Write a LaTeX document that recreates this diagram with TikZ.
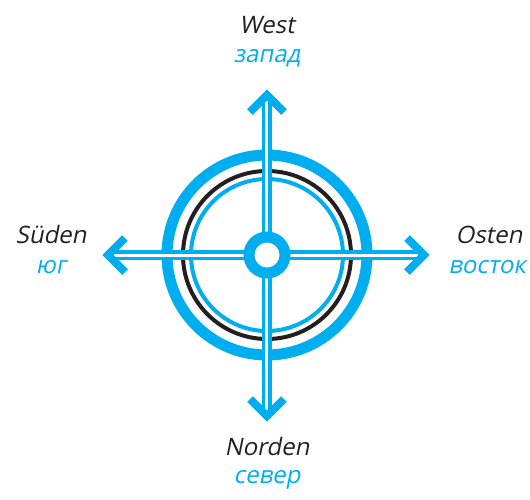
\documentclass[tikz,border=0pt]{standalone}
\usepackage{fontspec}
\setmainfont{Open Sans}
\newfontfamily\oblfont{Open Sans}[FakeSlant=0.2]
\definecolor{cy}{HTML}{00AEEF}
\definecolor{ink}{HTML}{231F20}
\begin{document}
\begin{tikzpicture}[x=1pt,y=1pt,
  shaft/.style={draw=cy,line width=3.5pt,double=white,double distance=3pt},
  chev/.style={draw=cy,line width=8pt,miter limit=10,line join=miter},
  lab/.style={anchor=base,font=\fontsize{24}{28}\selectfont\oblfont,text=ink,inner sep=0pt},
  labc/.style={lab,text=cy}]
\useasboundingbox (-267,-244) rectangle (263,255);
\coordinate (c) at (0,0);
\coordinate (tN) at (0,160);
\coordinate (tS) at (0,-161);
\coordinate (tW) at (-159,0);
\coordinate (tE) at (157,0);
% rings
\draw[cy,line width=11pt] (c) circle (100);
\draw[ink,line width=4pt] (c) circle (84);
\draw[cy,line width=4pt] (c) circle (76);
% shafts
\draw[shaft] (c) -- ([yshift=-2]tN);
\draw[shaft] (c) -- ([yshift=2]tS);
\draw[shaft] (c) -- ([xshift=2]tW);
\draw[shaft] (c) -- ([xshift=-2]tE);
% chevrons
\draw[chev] ([shift={(-17,-17)}]tN) -- (tN) -- ([shift={(17,-17)}]tN);
\draw[chev] ([shift={(-17,17)}]tS) -- (tS) -- ([shift={(17,17)}]tS);
\draw[chev] ([shift={(17,17)}]tW) -- (tW) -- ([shift={(17,-17)}]tW);
\draw[chev] ([shift={(-17,17)}]tE) -- (tE) -- ([shift={(-17,-17)}]tE);
% hub
\node[circle,draw=cy,line width=11pt,fill=white,minimum size=36pt,inner sep=0pt] (hub) at (c) {};
% labels
\node[lab] (w1) at (0,222) {West};
\node[labc] (w2) at (0,193) {запад};
\node[lab] (n1) at (0,-200) {Norden};
\node[labc] (n2) at (0,-228) {север};
\node[lab] (s1) at (-216,12) {Süden};
\node[labc] (s2) at (-216,-18) {юг};
\node[lab] (o1) at (222,12) {Osten};
\node[labc] (o2) at (220,-18) {восток};
\end{tikzpicture}
\end{document}
